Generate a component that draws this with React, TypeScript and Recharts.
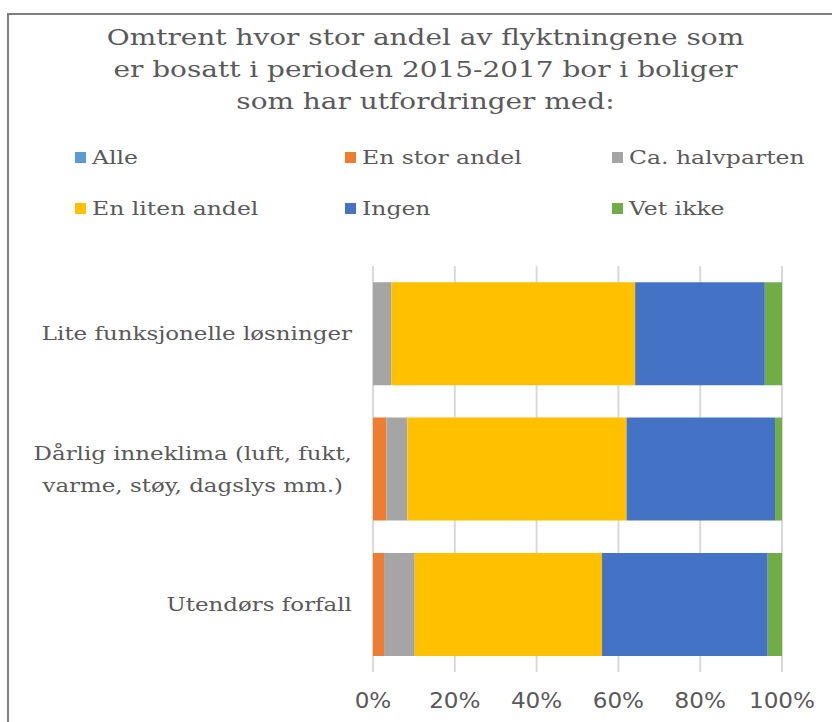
import { BarChart, Bar, XAxis, YAxis, CartesianGrid } from 'recharts';

const categories = [
  'Lite funksjonelle løsninger',
  'Dårlig inneklima (luft, fukt, varme, støy, dagslys mm.)',
  'Utendørs forfall',
];
// how each category label wraps on the axis
const categoryLines = [
  ['Lite funksjonelle løsninger'],
  ['Dårlig inneklima (luft, fukt,', 'varme, støy, dagslys mm.)'],
  ['Utendørs forfall'],
];

const seriesNames = ['Alle', 'En stor andel', 'Ca. halvparten', 'En liten andel', 'Ingen', 'Vet ikke'];
const seriesColors = ['#5b9bd5', '#ed7d31', '#a5a5a5', '#ffc000', '#4472c4', '#70ad47'];

const alle = [0, 0, 0];
const enStorAndel = [0, 3.3, 2.7];
const caHalvparten = [4.5, 5.1, 7.5];
const enLitenAndel = [59.6, 53.6, 45.8];
const ingen = [31.7, 36.3, 40.5];
const vetIkke = [4.2, 1.7, 3.5];

const xTicks = [0, 20, 40, 60, 80, 100];

const titleLines = [
  'Omtrent hvor stor andel av flyktningene som',
  'er bosatt i perioden 2015-2017 bor i boliger',
  'som har utfordringer med:',
];

const seriesValues = [alle, enStorAndel, caHalvparten, enLitenAndel, ingen, vetIkke];

const data = categories.map((category, i) => {
  const row: Record<string, any> = { category };
  seriesNames.forEach((name, s) => {
    row[name] = seriesValues[s][i];
  });
  return row;
});

const SERIF = '"DejaVu Serif", serif';
const SANS = '"DejaVu Sans", sans-serif';
const TEXT = '#595959';
// the reference text is drawn noticeably wider than DejaVu Serif
const STRETCH = 1.27;

let ctx: CanvasRenderingContext2D | null = null;
function measure(text: string, font: string) {
  if (!ctx) ctx = document.createElement('canvas').getContext('2d');
  if (!ctx) return text.length * 10;
  ctx.font = font;
  return ctx.measureText(text).width;
}

function CategoryTick(props: any) {
  const { x, y, payload } = props;
  const idx = categories.indexOf(payload.value);
  const lines = categoryLines[idx] || [payload.value];
  const fontSize = 18.5;
  const stretch = 1.24;
  const widest = Math.max(...lines.map((l) => measure(l, `${fontSize}px ${SERIF}`))) * stretch;
  const cx = x - widest / 2;
  const lineH = 32;
  const startY = y - ((lines.length - 1) * lineH) / 2;
  return (
    <g transform={`translate(${cx},0) scale(${stretch},1) translate(${-cx},0)`}>
      {lines.map((l, i) => (
        <text
          key={i}
          x={cx}
          y={startY + i * lineH}
          dy="0.36em"
          textAnchor="middle"
          fill={TEXT}
          fontSize={fontSize}
          fontFamily={SERIF}
        >
          {l}
        </text>
      ))}
    </g>
  );
}

function PercentTick(props: any) {
  const { x, y, payload } = props;
  return (
    <g transform={`translate(${x},0) scale(1.1,1) translate(${-x},0)`}>
      <text x={x} y={y} dy="0.71em" textAnchor="middle" fill={TEXT} fontSize={21} fontFamily={SANS}>
        {`${payload.value}%`}
      </text>
    </g>
  );
}

export default function App() {
  return (
    <div
      style={{
        position: 'absolute',
        left: 0,
        top: 0,
        width: 832,
        height: 722,
        overflow: 'hidden',
        background: '#fff',
      }}
    >
      <div
        style={{
          position: 'absolute',
          left: 7,
          top: 13,
          width: 900,
          height: 800,
          border: '2px solid #808080',
        }}
      />
      <div
        style={{
          position: 'absolute',
          left: 0,
          width: 851,
          top: 22,
          textAlign: 'center',
          fontFamily: SERIF,
          fontSize: 22,
          lineHeight: '32px',
          color: TEXT,
          transform: `scaleX(${STRETCH})`,
          transformOrigin: '425.5px 0',
        }}
      >
        {titleLines.map((t) => (
          <div key={t}>{t}</div>
        ))}
      </div>

      {seriesNames.map((name, i) => (
        <div
          key={name}
          style={{
            position: 'absolute',
            left: [75, 345, 612][i % 3],
            top: i < 3 ? 144 : 195,
            display: 'flex',
            alignItems: 'center',
            fontFamily: SERIF,
            fontSize: 18.5,
            color: TEXT,
            whiteSpace: 'nowrap',
            height: 26,
          }}
        >
          <span style={{ width: 11, height: 11, background: seriesColors[i], marginRight: 6 }} />
          <span style={{ display: 'inline-block', transform: `scaleX(${STRETCH})`, transformOrigin: '0 50%' }}>
            {name}
          </span>
        </div>
      ))}

      <div style={{ position: 'absolute', left: 0, top: 0 }}>
        <BarChart
          width={832}
          height={722}
          data={data}
          layout="vertical"
          barCategoryGap="12%"
          margin={{ top: 266, right: 50, left: 33, bottom: 0 }}
        >
          <CartesianGrid horizontal={false} stroke="#d9d9d9" strokeWidth={2} />
          <XAxis
            type="number"
            domain={[0, 100]}
            ticks={xTicks}
            axisLine={false}
            tickLine={false}
            height={50}
            tickMargin={15.5}
            tick={<PercentTick />}
          />
          <YAxis
            type="category"
            dataKey="category"
            width={340}
            axisLine={false}
            tickLine={false}
            tickMargin={15}
            tick={<CategoryTick />}
          />
          {seriesNames.map((name, i) => (
            <Bar
              key={name}
              dataKey={name}
              stackId="a"
              fill={seriesColors[i]}
              isAnimationActive={false}
            />
          ))}
        </BarChart>
      </div>
    </div>
  );
}
